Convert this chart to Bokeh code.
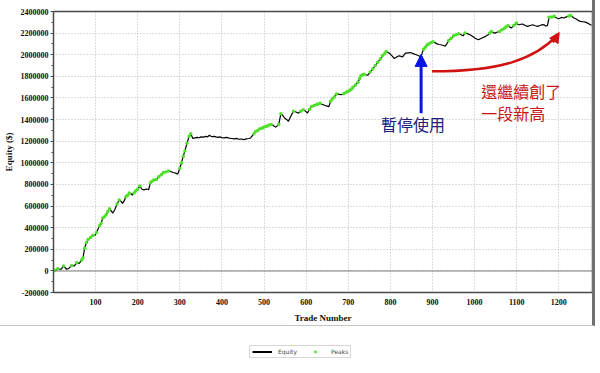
import numpy as np
from bokeh.plotting import figure
from bokeh.layouts import column
from bokeh.models import (ColumnDataSource, Range1d, FixedTicker, SingleIntervalTicker,
                          Span, Arrow, NormalHead, Label, Legend, LegendItem,
                          NumeralTickFormatter)
from bokeh.embed import file_html
from bokeh.resources import INLINE

# ---------------- data ----------------
trades = [0, 3, 10, 18, 24, 31, 37, 43, 49, 55, 61, 67, 70, 74, 78, 82, 88, 94, 98, 102,
          109, 113, 117, 121, 125, 129, 133, 137, 141, 146, 151, 156, 160, 164, 168, 172, 176, 180, 184, 187,
          191, 195, 200, 205, 210, 215, 220, 226, 230, 234, 238, 244, 250, 256, 261, 267, 273, 278, 284, 290,
          295, 300, 304, 308, 312, 317, 322, 326, 331, 336, 341, 346, 350, 356, 362, 366, 370, 374, 378, 382,
          386, 391, 395, 400, 405, 411, 417, 423, 429, 435, 440, 446, 452, 458, 464, 468, 472, 476, 480, 485,
          490, 495, 499, 504, 508, 512, 517, 522, 527, 531, 535, 540, 543, 546, 550, 554, 558, 562, 566, 570,
          576, 582, 587, 593, 598, 603, 608, 613, 619, 625, 629, 633, 639, 645, 650, 654, 658, 662, 667, 672,
          677, 683, 689, 695, 699, 703, 707, 711, 717, 723, 727, 730, 734, 738, 742, 746, 752, 758, 764, 770,
          776, 781, 786, 790, 795, 800, 805, 809, 815, 821, 825, 829, 833, 836, 842, 848, 853, 857, 863, 868,
          871, 875, 879, 883, 887, 891, 896, 901, 906, 911, 916, 922, 926, 930, 934, 938, 944, 950, 956, 962,
          968, 973, 977, 983, 989, 995, 1001, 1005, 1009, 1015, 1020, 1026, 1032, 1036, 1040, 1044, 1048, 1054, 1059, 1065,
          1071, 1075, 1079, 1083, 1087, 1093, 1099, 1103, 1106, 1110, 1114, 1120, 1126, 1132, 1138, 1144, 1150, 1155, 1160, 1165,
          1169, 1173, 1177, 1183, 1189, 1195, 1200, 1206, 1212, 1218, 1224, 1228, 1232, 1236, 1240, 1246, 1251, 1257, 1263, 1270,
          1275, 1278]

equity = [0, 5000, 20000, 15000, 45000, 15000, 25000, 50000, 45000, 75000, 70000, 100000, 120000, 210000, 260000, 290000, 310000, 330000, 325000, 355000,
          415000, 440000, 490000, 500000, 520000, 550000, 575000, 555000, 535000, 570000, 620000, 655000, 645000, 625000, 650000, 685000, 700000, 720000, 715000, 700000,
          720000, 740000, 755000, 785000, 755000, 750000, 758000, 752000, 815000, 830000, 840000, 845000, 870000, 890000, 910000, 915000, 925000, 920000, 910000, 905000,
          895000, 950000, 1000000, 1060000, 1110000, 1180000, 1245000, 1270000, 1225000, 1230000, 1235000, 1232000, 1240000, 1238000, 1245000, 1240000, 1255000, 1245000, 1242000, 1245000,
          1240000, 1235000, 1240000, 1232000, 1230000, 1235000, 1228000, 1225000, 1222000, 1226000, 1218000, 1220000, 1215000, 1222000, 1225000, 1230000, 1250000, 1270000, 1290000, 1300000,
          1315000, 1320000, 1330000, 1335000, 1340000, 1350000, 1355000, 1345000, 1330000, 1340000, 1355000, 1455000, 1445000, 1430000, 1410000, 1400000, 1385000, 1420000, 1450000, 1477000,
          1470000, 1460000, 1478000, 1490000, 1480000, 1460000, 1495000, 1520000, 1530000, 1540000, 1545000, 1550000, 1540000, 1530000, 1525000, 1520000, 1570000, 1590000, 1610000, 1637000,
          1635000, 1630000, 1640000, 1652000, 1660000, 1668000, 1680000, 1698000, 1720000, 1745000, 1780000, 1806000, 1815000, 1820000, 1815000, 1810000, 1840000, 1868000, 1900000, 1930000,
          1960000, 1990000, 2010000, 2030000, 2020000, 2006000, 1985000, 1966000, 1980000, 1990000, 1985000, 1980000, 2000000, 2015000, 2018000, 2020000, 2012000, 2006000, 1998000, 1990000,
          1975000, 2010000, 2050000, 2070000, 2090000, 2100000, 2110000, 2120000, 2112000, 2100000, 2095000, 2090000, 2085000, 2080000, 2100000, 2130000, 2150000, 2175000, 2185000, 2195000,
          2185000, 2175000, 2200000, 2195000, 2185000, 2170000, 2153000, 2145000, 2138000, 2150000, 2160000, 2170000, 2185000, 2200000, 2215000, 2205000, 2200000, 2210000, 2215000, 2230000,
          2246000, 2260000, 2270000, 2258000, 2246000, 2270000, 2293000, 2280000, 2277000, 2282000, 2284000, 2270000, 2262000, 2270000, 2277000, 2268000, 2262000, 2270000, 2278000, 2277000,
          2265000, 2270000, 2346000, 2350000, 2355000, 2340000, 2333000, 2345000, 2340000, 2350000, 2358000, 2364000, 2352000, 2340000, 2333000, 2318000, 2308000, 2305000, 2302000, 2290000,
          2277000, 2275000]

x_ticks = [100, 200, 300, 400, 500, 600, 700, 800, 900, 1000, 1100, 1200]
series_names = ["Equity", "Peaks"]
x_label = "Trade Number"
y_label = "Equity ($)"
pause_text = "暫停使用"
new_high_text = ["還繼續創了", "一段新高"]

# ---------------- derived ----------------
eq = np.array(equity, dtype=float)
tr = np.array(trades, dtype=float)
run_max = np.maximum.accumulate(eq)
is_peak = eq >= run_max
src_line = ColumnDataSource(dict(x=tr, y=eq))
src_peak = ColumnDataSource(dict(x=tr[is_peak], y=eq[is_peak]))

SERIF = "Liberation Serif"
CJK = "Noto Sans CJK TC"
GREEN = "#4fe02c"

p = figure(width=595, height=326, output_backend="svg", toolbar_location=None,
           x_range=Range1d(0, 1280), y_range=Range1d(-200000, 2400000),
           min_border_left=48, min_border_right=3, min_border_top=11, min_border_bottom=34,
           background_fill_color="white", border_fill_color="white",
           styles={"border-right": "3px solid #707070", "border-bottom": "1px solid #c4c4c4"})
p.outline_line_color = "#4a4a4a"
p.outline_line_width = 1.5

# axes
p.xaxis.ticker = FixedTicker(ticks=x_ticks, minor_ticks=[])
p.yaxis.ticker = SingleIntervalTicker(interval=200000, num_minor_ticks=2)
p.yaxis.formatter = NumeralTickFormatter(format="0")
for ax in (p.xaxis[0], p.yaxis[0]):
    ax.major_label_text_font = SERIF
    ax.major_label_text_font_style = "bold"
    ax.major_label_text_font_size = "8px"
    ax.major_label_text_color = "#111111"
    ax.axis_label_text_font = SERIF
    ax.axis_label_text_font_style = "bold"
    ax.axis_label_text_font_size = "9px"
    ax.axis_label_text_color = "#111111"
    ax.axis_line_color = "#4a4a4a"
    ax.major_tick_line_color = "#4a4a4a"
    ax.minor_tick_line_color = "#4a4a4a"
p.xaxis.axis_label = x_label
p.yaxis.axis_label = y_label
p.xaxis.major_tick_out = 0
p.xaxis.major_tick_in = 0
p.xaxis.major_label_standoff = 6
p.xaxis.axis_label_standoff = 5
p.yaxis.major_tick_out = 3
p.yaxis.major_tick_in = 0
p.yaxis.minor_tick_out = 2
p.yaxis.minor_tick_in = 0
p.yaxis.major_label_standoff = 2
p.yaxis.axis_label_standoff = 4

# grid
p.xgrid.grid_line_color = "#b8b8b8"
p.xgrid.grid_line_dash = "1 2"
p.ygrid.grid_line_color = "#b8b8b8"
p.ygrid.grid_line_dash = "1 2"

# zero line
p.add_layout(Span(location=0, dimension="width", line_color="#555555",
                  line_dash="1 1", line_width=1.5))

# series
p.line("x", "y", source=src_line, line_color="black", line_width=1.2)
p.scatter("x", "y", source=src_peak, size=3.5, fill_color=GREEN, line_color=None)

# blue arrow + text
p.add_layout(Arrow(end=NormalHead(size=12, fill_color="#0a14e6", line_color="#0a14e6"),
                   x_start=873, y_start=1458000, x_end=873, y_end=2003000,
                   line_color="#0a14e6", line_width=3))
p.add_layout(Label(x=854, y=1362000, text=pause_text, text_font=CJK,
                   text_font_size="16px", text_color="#20207a",
                   text_align="center", text_baseline="middle"))

# red curved arrow + text
p.bezier(x0=[899], y0=[1846000], x1=[1199], y1=[2190000],
         cx0=[1063], cy0=[1846000], cx1=[1145], cy1=[1960000],
         line_color="#d01212", line_width=2.5)
p.add_layout(Arrow(end=NormalHead(size=10, fill_color="#d01212", line_color="#d01212"),
                   x_start=1186, y_start=2114000, x_end=1201, y_end=2206000,
                   line_color="#d01212", line_width=2.5))
p.add_layout(Label(x=1016, y=1662000, text=new_high_text[0], text_font=CJK,
                   text_font_size="16px", text_color="#c81414",
                   text_align="left", text_baseline="middle"))
p.add_layout(Label(x=1016, y=1463000, text=new_high_text[1], text_font=CJK,
                   text_font_size="16px", text_color="#c81414",
                   text_align="left", text_baseline="middle"))

# legend figure below the frame line (its glyphs sit outside its own range)
f2 = figure(width=600, height=45, output_backend="svg", toolbar_location=None,
            x_axis_location=None, y_axis_location=None, min_border=0,
            x_range=Range1d(0, 1), y_range=Range1d(0, 1))
f2.outline_line_color = None
f2.grid.visible = False
r1 = f2.line(x=[5, 6], y=[5, 6], line_color="black", line_width=2)
r2 = f2.scatter(x=[5], y=[5], size=4, fill_color=GREEN, line_color=None)
leg = Legend(items=[LegendItem(label=series_names[0], renderers=[r1]),
                    LegendItem(label=series_names[1], renderers=[r2])],
             orientation="horizontal", location=(196, 13),
             label_text_font="DejaVu Sans", label_text_font_size="6px",
             glyph_height=7, glyph_width=20, label_height=7, label_width=15,
             label_standoff=6, spacing=8, padding=2, margin=0,
             border_line_color="#b0b0b0", border_line_width=1)
f2.add_layout(leg)

layout = column(p, f2, spacing=0)
open("out.html", "w").write(file_html(layout, INLINE))
